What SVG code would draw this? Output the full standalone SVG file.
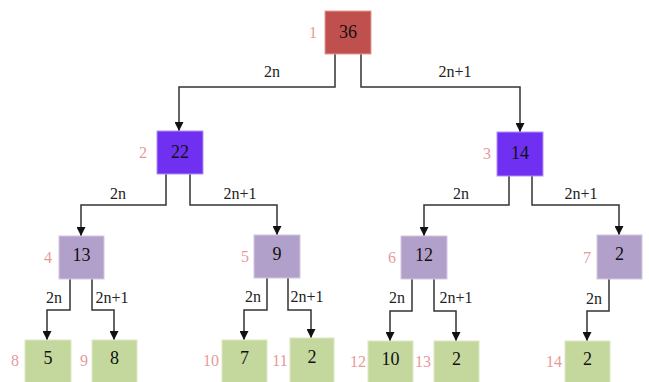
<svg xmlns="http://www.w3.org/2000/svg" width="649" height="382" viewBox="0 0 649 382">
<defs>
<marker id="ah" viewBox="0 0 10 10" refX="10" refY="5" markerWidth="9" markerHeight="9" markerUnits="userSpaceOnUse" orient="auto">
<path d="M0,0 L10,5 L0,10 z" fill="#111"/>
</marker>
</defs>
<style>
.c{fill:none;stroke:#333;stroke-width:1.5;marker-end:url(#ah)}
.r{fill:#C0504D;stroke:#E39C9A;stroke-width:1}
.p{fill:#7030F2;stroke:#B190F5;stroke-width:1}
.l{fill:#B1A0C9;stroke:#D2C8E0;stroke-width:1}
.g{fill:#C4D89D;stroke:#DCE8C4;stroke-width:1}
.t{font-family:"Liberation Serif",serif;font-size:18px;fill:#111;text-anchor:middle}
.e{font-family:"Liberation Serif",serif;font-size:16px;fill:#222;text-anchor:middle}
.i{font-family:"Liberation Serif",serif;font-size:16px;fill:#E89A9A;text-anchor:middle}
</style>
<g id="connectors">
<path class="c" d="M335,54 V87 H179 V131"/>
<path class="c" d="M361,54 V87 H520 V132"/>
<path class="c" d="M166,174 V205 H81 V236"/>
<path class="c" d="M190,174 V205 H277 V235"/>
<path class="c" d="M509,176 V205 H424 V236"/>
<path class="c" d="M532,176 V205 H619 V235"/>
<path class="c" d="M70,279 V310 H47 V340"/>
<path class="c" d="M92,279 V310 H114 V340"/>
<path class="c" d="M267,278 V310 H244 V340"/>
<path class="c" d="M288,278 V310 H311 V338"/>
<path class="c" d="M412,279 V311 H390 V341"/>
<path class="c" d="M434,279 V311 H456 V341"/>
<path class="c" d="M609,279 V311 H587 V341"/>
<text class="e" x="272" y="77">2n</text>
<text class="e" x="455" y="77">2n+1</text>
<text class="e" x="118" y="199">2n</text>
<text class="e" x="240" y="199">2n+1</text>
<text class="e" x="461" y="199">2n</text>
<text class="e" x="581" y="199">2n+1</text>
<text class="e" x="54" y="303">2n</text>
<text class="e" x="112" y="303">2n+1</text>
<text class="e" x="253" y="302">2n</text>
<text class="e" x="307" y="302">2n+1</text>
<text class="e" x="397" y="303">2n</text>
<text class="e" x="456" y="303">2n+1</text>
<text class="e" x="594" y="304">2n</text>
</g>
<g id="n1"><rect class="r" x="325" y="11" width="46" height="43"/><text class="t" x="348" y="38">36</text><text class="i" x="313" y="38">1</text></g>
<g id="n2"><rect class="p" x="157" y="131" width="46" height="43"/><text class="t" x="180" y="158">22</text><text class="i" x="143" y="158">2</text></g>
<g id="n3"><rect class="p" x="497" y="132" width="46" height="44"/><text class="t" x="520" y="159">14</text><text class="i" x="487" y="159">3</text></g>
<g id="n4"><rect class="l" x="59" y="236" width="45" height="43"/><text class="t" x="81.5" y="261">13</text><text class="i" x="48" y="263">4</text></g>
<g id="n5"><rect class="l" x="254" y="235" width="46" height="43"/><text class="t" x="277" y="260">9</text><text class="i" x="245" y="262">5</text></g>
<g id="n6"><rect class="l" x="401" y="236" width="46" height="43"/><text class="t" x="424" y="261">12</text><text class="i" x="392" y="263">6</text></g>
<g id="n7"><rect class="l" x="597" y="235" width="45" height="44"/><text class="t" x="619.5" y="260">2</text><text class="i" x="587" y="263">7</text></g>
<g id="n8"><rect class="g" x="25" y="340" width="46" height="44"/><text class="t" x="48" y="364">5</text><text class="i" x="15" y="366">8</text></g>
<g id="n9"><rect class="g" x="92" y="340" width="45" height="44"/><text class="t" x="114.5" y="364">8</text><text class="i" x="84" y="366">9</text></g>
<g id="n10"><rect class="g" x="222" y="340" width="45" height="44"/><text class="t" x="244.5" y="364">7</text><text class="i" x="211" y="366">10</text></g>
<g id="n11"><rect class="g" x="290" y="338" width="44" height="46"/><text class="t" x="312" y="363">2</text><text class="i" x="280" y="366">11</text></g>
<g id="n12"><rect class="g" x="368" y="341" width="45" height="43"/><text class="t" x="390.5" y="365">10</text><text class="i" x="358" y="367">12</text></g>
<g id="n13"><rect class="g" x="434" y="341" width="45" height="43"/><text class="t" x="456.5" y="365">2</text><text class="i" x="423" y="367">13</text></g>
<g id="n14"><rect class="g" x="565" y="341" width="45" height="43"/><text class="t" x="587.5" y="365">2</text><text class="i" x="554" y="367">14</text></g>
</svg>
